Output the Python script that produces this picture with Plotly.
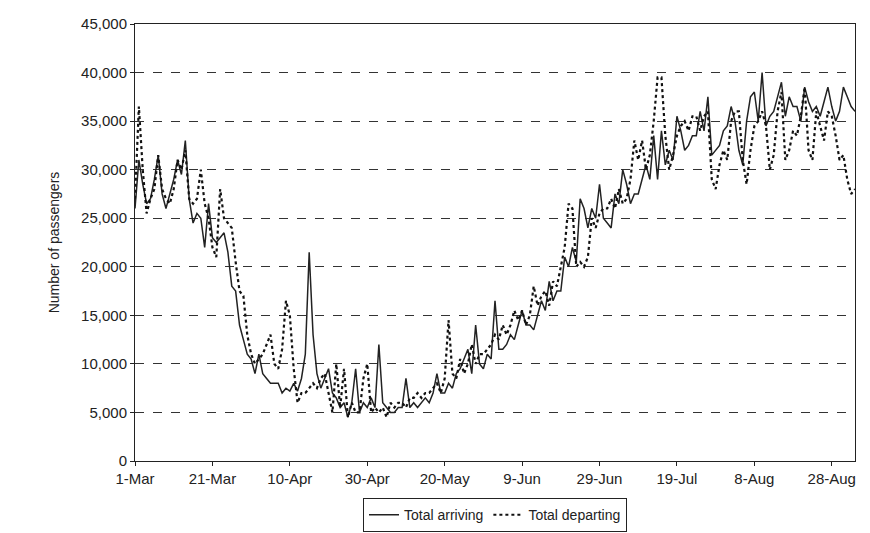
import plotly.graph_objects as go
import pandas as pd

dates = pd.date_range("2009-03-01", periods=187, freq="D")
tick_dates = pd.date_range("2009-03-01", periods=10, freq="20D")
tick_labels = ["1-Mar", "21-Mar", "10-Apr", "30-Apr", "20-May", "9-Jun", "29-Jun", "19-Jul", "8-Aug", "28-Aug"]

arriving = [
26000, 31000, 28500, 26500, 27000, 29000, 31500, 27500, 26000, 27500,
29000, 31000, 29500, 33000, 27000, 24500, 25500, 25000, 22000, 26500,
23000, 22500, 23000, 23500, 21500, 18000, 17500, 14000, 12500, 11000,
10500, 9000, 11000, 9000, 8500, 8000, 8000, 8000, 7000, 7500,
7200, 8000, 7200, 8500, 11000, 21500, 13000, 9000, 7500, 8500,
9500, 7000, 6500, 5500, 6000, 4500, 6000, 9500, 5000, 6000,
5500, 6500, 5500, 12000, 6000, 5500, 5000, 5000, 5500, 5500,
8500, 5500, 6000, 5500, 6000, 6500, 6000, 7000, 9000, 7000,
7000, 8000, 7500, 9000, 9500, 10500, 11500, 9000, 14000, 10000,
9500, 11000, 10500, 16500, 11500, 11500, 12000, 13000, 12500, 14000,
15500, 14000, 14000, 13500, 15000, 16500, 15500, 18500, 16500, 17500,
17500, 21000, 20000, 22000, 20500, 27000, 26000, 24000, 26000, 25000,
28500, 25000, 24500, 24000, 27500, 26500, 30000, 28500, 26500, 27500,
27500, 29000, 30500, 29000, 33500, 29000, 34000, 30500, 32000, 31000,
35500, 34000, 32000, 32500, 33500, 33500, 36000, 34000, 37500, 31500,
32000, 32500, 34000, 34500, 36500, 35000, 32000, 30500, 35000, 37500,
38000, 35000, 40000, 34500, 35500, 36000, 37500, 39000, 35500, 37500,
36500, 36500, 35000, 38500, 37000, 36000, 36500, 35500, 37000, 38500,
36500, 35000, 36000, 38500, 37500, 36500, 36000]

departing = [
27000, 36500, 30000, 25500, 27000, 28000, 31500, 28000, 27000, 26500,
28000, 31000, 30000, 32000, 27000, 26500, 27000, 30000, 26500, 25000,
22000, 21000, 28000, 25000, 24500, 24000, 20500, 17500, 17000, 13000,
11000, 10000, 10500, 11000, 12000, 13000, 10000, 9500, 11500, 16500,
15000, 9500, 6000, 7000, 7000, 7500, 8000, 7500, 8500, 9000,
7000, 5000, 10000, 5500, 9500, 4500, 6000, 5000, 5000, 8500,
10000, 5000, 5500, 5000, 5500, 4500, 6000, 5500, 6000, 6000,
5500, 6500, 6500, 7000, 6500, 7000, 7000, 7500, 8000, 7000,
8500, 14500, 9000, 8500, 10500, 9000, 10000, 12000, 10000, 11000,
11000, 11500, 12000, 13000, 12500, 14000, 13000, 14000, 15500, 14500,
15500, 14000, 15000, 18000, 16000, 17000, 17500, 16000, 18500, 18000,
20000, 22000, 26500, 26000, 20000, 20500, 20000, 21000, 25000, 24000,
25500, 26000, 26000, 27000, 26000, 28000, 26500, 27000, 29000, 33000,
31000, 33000, 30000, 31500, 35000, 39500, 39500, 33500, 30000, 31500,
33500, 34500, 35000, 34000, 35500, 35500, 34000, 35500, 36000, 29000,
28000, 30500, 32000, 31000, 35000, 36000, 36000, 31000, 28500, 32000,
34500, 35000, 36000, 34500, 30000, 31500, 36000, 38000, 31000, 32000,
34000, 33500, 35500, 38500, 32000, 31000, 36000, 34500, 33000, 36000,
35500, 33500, 31000, 31500, 29000, 27500, 28000]

fig = go.Figure()
fig.add_trace(go.Scatter(x=dates, y=arriving, mode="lines", name="Total arriving",
                         line=dict(color="#222", width=1.5)))
fig.add_trace(go.Scatter(x=dates, y=departing, mode="lines", name="Total departing",
                         line=dict(color="#111", width=2.2, dash="dot")))

fig.update_layout(
    width=870, height=533, plot_bgcolor="white", paper_bgcolor="white",
    margin=dict(l=127, r=23, t=16, b=80, autoexpand=False),
    font=dict(family="Liberation Sans, Arial", size=15, color="#222"),
    legend=dict(orientation="h", x=0.5, xanchor="center", y=-0.085, yanchor="top",
                bordercolor="#222", borderwidth=1, font=dict(size=14),
                tracegroupgap=0, itemwidth=30),
    xaxis=dict(range=[dates[0], dates[-1]], tickvals=tick_dates, ticktext=tick_labels,
               showgrid=False, showline=True, linecolor="#222", mirror=True, automargin=False,
               ticks="outside", ticklen=4, tickcolor="#222"),
    yaxis=dict(range=[0, 45000], dtick=5000, tickformat=",", showgrid=True,
               gridcolor="#333", griddash="dash", gridwidth=1, automargin=False,
               showline=True, linecolor="#222", mirror=True, ticks="outside", ticklen=4,
               tickcolor="#222", zeroline=False,
               title=dict(text="Number of passengers", standoff=18, font=dict(size=14))),
)
fig.write_html("out.html")
